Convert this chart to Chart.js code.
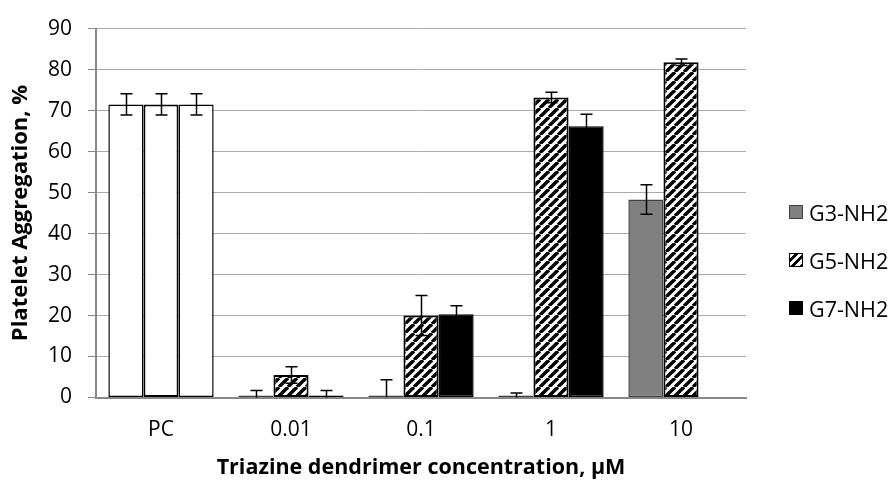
<!DOCTYPE html>
<html>
<head>
<meta charset="utf-8">
<script src="https://cdn.jsdelivr.net/npm/chart.js@4.4.1/dist/chart.umd.min.js"></script>
<style>
  body { margin: 0; background: #fff; }
  #wrap { position: relative; width: 896px; height: 486px; }
  #legend { position: absolute; left: 789px; top: 200px; font-family: "Open Sans", sans-serif; font-size: 21.5px; color: #000; }
  .item { display: flex; align-items: center; height: 24px; margin-bottom: 24px; }
  .sw { width: 12px; height: 12px; margin-right: 6px; border: 1px solid #000; box-sizing: content-box; }
</style>
</head>
<body>
<div id="wrap">
  <canvas id="chart" width="896" height="486"></canvas>
  <div id="legend">
    <div class="item"><span class="sw" style="background:#808080;border-color:#404040"></span>G3-NH2</div>
    <div class="item"><span class="sw" style="background:repeating-linear-gradient(135deg,#fff 0 3px,#000 3px 6px)"></span>G5-NH2</div>
    <div class="item"><span class="sw" style="background:#000"></span>G7-NH2</div>
  </div>
</div>
<script>
const categories = ['PC', '0.01', '0.1', '1', '10'];
const g3 = [71.5, 0, 0, 0, 48.3];
const g3Err = [2.6, 1.7, 4.3, 1.1, 3.6];
const g5 = [71.5, 5.5, 20.0, 73.2, 81.8];
const g5Err = [2.6, 2.0, 4.9, 1.3, 0.8];
const g7 = [71.5, 0, 20.3, 66.2, null];
const g7Err = [2.6, 1.7, 2.1, 2.9, null];
const yTicks = [0, 10, 20, 30, 40, 50, 60, 70, 80, 90];

function makeHatch() {
  const c = document.createElement('canvas');
  c.width = 9; c.height = 9;
  const x = c.getContext('2d');
  x.fillStyle = '#fff';
  x.fillRect(0, 0, 9, 9);
  x.strokeStyle = '#000';
  x.lineWidth = 3.4;
  [-9, 0, 9].forEach(k => {
    x.beginPath();
    x.moveTo(k, 9);
    x.lineTo(k + 9, 0);
    x.stroke();
  });
  return x.createPattern(c, 'repeat');
}
const hatch = makeHatch();

// PC bars are plain white in the original
function fills(color) {
  return categories.map((c, i) => i === 0 ? '#ffffff' : color);
}

const errorBars = {
  id: 'errorBars',
  afterDatasetsDraw(chart) {
    const ctx = chart.ctx;
    const y = chart.scales.y;
    const area = chart.chartArea;
    ctx.save();
    ctx.beginPath();
    ctx.rect(area.left, area.top - 10, area.right - area.left, area.bottom - area.top + 10);
    ctx.clip();
    ctx.strokeStyle = '#000';
    ctx.lineWidth = 1.5;
    chart.data.datasets.forEach((ds, di) => {
      const meta = chart.getDatasetMeta(di);
      meta.data.forEach((bar, i) => {
        const v = ds.data[i];
        const e = ds.errors[i];
        if (v == null || e == null) return;
        const top = y.getPixelForValue(v + e);
        const bot = y.getPixelForValue(v - e);
        const cx = Math.round(bar.x) + 0.5;
        ctx.beginPath();
        ctx.moveTo(cx, top); ctx.lineTo(cx, bot);
        ctx.moveTo(cx - 6, top); ctx.lineTo(cx + 6, top);
        ctx.moveTo(cx - 6, bot); ctx.lineTo(cx + 6, bot);
        ctx.stroke();
      });
    });
    ctx.restore();
  }
};

new Chart(document.getElementById('chart'), {
  type: 'bar',
  data: {
    labels: categories,
    datasets: [
      { label: 'G3-NH2', data: g3, errors: g3Err, backgroundColor: fills('#808080'),
        borderColor: categories.map((c, i) => i === 0 ? '#000' : '#404040'), borderWidth: 1.5 },
      { label: 'G5-NH2', data: g5, errors: g5Err, backgroundColor: fills(hatch),
        borderColor: '#000', borderWidth: 2 },
      { label: 'G7-NH2', data: g7, errors: g7Err, backgroundColor: fills('#000000'),
        borderColor: '#000', borderWidth: 1.5 }
    ]
  },
  options: {
    responsive: false,
    animation: false,
    devicePixelRatio: 1,
    datasets: { bar: { categoryPercentage: 0.81, barPercentage: 1, minBarLength: 2, borderSkipped: false } },
    layout: { padding: { top: 25, right: 150, left: 0, bottom: 0 } },
    plugins: {
      legend: { display: false },
      tooltip: { enabled: false }
    },
    scales: {
      x: {
        grid: { display: false, drawTicks: false },
        border: { color: '#888', width: 2 },
        ticks: { color: '#000', padding: 20, font: { family: 'Open Sans', size: 21 } },
        title: {
          display: true, text: 'Triazine dendrimer concentration, \u03bcM', color: '#000',
          font: { family: 'Open Sans', size: 21.5, weight: 'bold' }, padding: { top: 0, bottom: 5 }
        },
        afterFit(s) { s.height = 88.5; }
      },
      y: {
        min: 0, max: 90,
        afterBuildTicks(s) { s.ticks = yTicks.map(v => ({ value: v })); },
        grid: { color: '#aaaaaa', lineWidth: 1, tickLength: 8, tickColor: '#888' },
        border: { color: '#888', width: 2 },
        ticks: { color: '#000', padding: 16, font: { family: 'Open Sans', size: 21 } },
        title: {
          display: true, text: 'Platelet Aggregation, %', color: '#000',
          font: { family: 'Open Sans', size: 22, weight: 'bold' }, padding: { top: 8, bottom: 0 }
        },
        afterFit(s) { s.width = 96; }
      }
    }
  },
  plugins: [errorBars]
});
</script>
</body>
</html>
